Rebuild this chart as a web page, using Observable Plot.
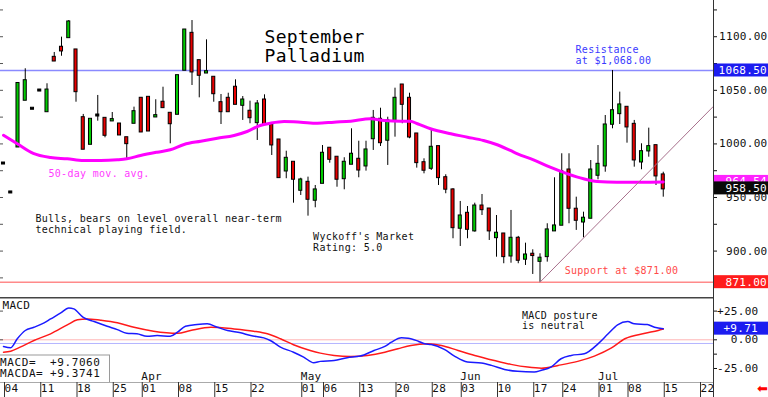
<!DOCTYPE html>
<html><head><meta charset="utf-8">
<script src="https://cdn.jsdelivr.net/npm/d3@7"></script>
<script src="https://cdn.jsdelivr.net/npm/@observablehq/plot@0.6"></script>
<style>
html,body{margin:0;padding:0;background:#fff;}
#chart{position:relative;width:768px;height:397px;overflow:hidden;background:#fff;}
#chart svg{display:block;}
#chart text{letter-spacing:0.3px;}
</style></head><body><div id="chart"></div>
<script>
// ---- Daily OHLC, trading days from Mar 04 2024 (index 0) to Jul 15 2024 (index 91)
const open  = [981.7,954.7,997.6,1041.2,1032.8,1049.8,1030.5,1080.3,1089.7,1099.6,
  1087.2,1024.0,1000.1,1026.5,1023.4,1021.9,1018.1,1005.3,1019.7,1042.1,
  1043.0,1025.6,1038.4,1028.1,1028.1,1069.2,1102.7,1077.2,1066.6,1061.7,
  1038.0,1042.1,1052.4,1036.5,1030.0,1020.3,1040.5,1017.2,1003.2,975.2,
  982.4,957.2,963.7,947.9,963.7,995.5,987.1,968.0,981.5,985.2,
  979.9,1005.3,1022.5,1003.9,1022.5,1054.5,1042.1,1008.8,982.0,977.7,
  997.0,968.0,956.6,921.8,934.8,919.3,941.6,938.8,913.0,915.5,
  895.9,911.5,892.9,896.6,890.9,895.3,919.3,924.6,975.2,938.6,
  927.6,931.1,971.2,979.9,1018.8,1028.7,1033.7,1017.8,983.6,993.9,
  997.9,970.6];
const high  = [981.7,954.7,1055.9,1070.1,1032.8,1049.8,1056.1,1085.3,1099.6,1115.1,
  1087.2,1027.5,1022.5,1045.2,1023.4,1029.3,1018.1,1005.3,1034.3,1042.1,
  1043.0,1041.2,1052.9,1028.1,1063.2,1105.8,1115.1,1077.2,1097.1,1061.7,
  1046.1,1047.3,1059.8,1044.2,1039.9,1040.5,1045.8,1017.2,1003.2,993.2,
  982.4,968.0,969.0,961.2,998.5,995.5,987.1,987.1,1014.1,1002.5,
  1002.5,1031.2,1033.3,1024.9,1052.0,1054.5,1047.3,1008.8,986.1,1014.1,
  997.0,971.2,958.2,946.3,941.6,944.7,952.8,938.8,933.2,915.5,
  937.9,913.7,907.4,901.2,897.5,925.5,968.4,990.8,990.8,950.3,
  936.3,984.5,998.5,1026.5,1068.5,1048.3,1033.7,1021.9,1000.1,1014.7,
  997.9,973.6];
const low   = [981.7,954.7,997.6,1041.2,1032.8,1049.8,1030.5,1077.8,1081.8,1099.6,
  1038.9,995.5,1000.1,1021.2,1005.7,1021.9,1008.8,984.5,1019.7,1010.7,
  1012.5,1025.6,1034.3,1000.1,1028.1,1069.2,1054.5,1043.0,1066.6,1038.9,
  1018.1,1030.5,1037.4,1021.9,1018.8,1003.2,1018.8,989.2,969.0,967.5,
  944.7,951.9,932.6,940.4,963.7,982.0,959.6,957.2,981.5,968.4,
  974.6,993.9,997.6,979.9,1006.3,1018.8,1004.8,977.4,972.1,975.2,
  961.2,953.5,911.5,904.3,911.5,917.7,933.2,909.9,894.3,888.2,
  888.7,888.2,886.6,878.2,871.0,889.7,918.6,924.6,925.5,919.3,
  912.4,931.1,966.5,973.6,1014.1,1018.1,1000.7,978.3,975.9,987.6,
  961.2,950.3];
const close = [981.7,954.7,1055.9,1058.5,1032.8,1049.8,1049.8,1077.8,1087.2,1113.3,
  1049.2,995.5,1022.5,1026.5,1008.5,1022.2,1008.8,1000.7,1029.6,1011.6,
  1012.5,1025.9,1034.3,1019.3,1063.2,1105.8,1067.6,1064.5,1066.9,1047.3,
  1030.5,1030.5,1037.4,1040.5,1024.9,1036.8,1018.8,999.5,969.0,986.1,
  967.5,965.9,948.8,956.6,990.8,986.1,967.5,982.4,989.9,976.1,
  993.9,1023.4,1001.6,1021.2,1042.1,1037.4,1006.9,983.0,975.9,996.4,
  969.0,958.2,922.3,932.3,920.8,941.6,939.1,919.3,916.2,895.3,
  911.5,891.9,895.9,896.3,892.9,919.3,923.0,973.6,940.4,929.2,
  930.2,975.2,980.5,1017.2,1030.5,1035.9,1016.3,985.5,992.3,997.0,
  970.6,958.5];

// ---- 50-day moving average
const maDay   = [0,1.9,4.1,6.5,8.8,11,13.4,15.7,17,18.9,21.2,23,24.9,27.2,29.5,31.8,33.6,35.4,36.8,38.7,41,43.3,45.6,47.9,50.6,52.5,54.8,56.1,57.1,58.9,61.7,64,66.2,68.1,69.9,70.9,73.1,75.4,77.8,80,81.9,84.6,87.9,91];
const maValue = [1008.1,1000.1,991.1,987.3,986.1,984.5,984.5,985.2,986.1,989.2,992.3,994.5,999.5,1002.5,1005.3,1007.9,1011.6,1017.2,1019.3,1020.9,1020.3,1019.3,1020.3,1021.2,1023.4,1021.9,1021.2,1021.2,1018.8,1014.1,1009.4,1006.3,1003.2,999.2,993.9,990.8,985.2,978.3,972.1,967.5,965.0,964.3,964.3,964.54];

// ---- MACD (blue) and MACDA signal (red)
const macdDay   = [0,1,1.9,3,4.2,5.6,6.5,7.9,9,9.7,11,12.5,14.3,15.7,17,18.4,19.8,21.2,23,24,25.1,26.7,28.1,29.5,30.9,32.7,34.1,35.9,36.8,38.2,40,41.4,42.8,43.7,45.6,47.4,49.2,51.1,52.6,53.5,54.9,55.8,57.2,58.1,59,60.8,62.2,64,65.9,67.3,69.1,70.9,73.2,74.2,75.5,76.9,78.3,80.1,82,83.4,84.7,86.1,87,88.8,89.8,91];
const macdValue = [-5.8,-6.9,0.9,8.1,10.9,14.8,18.2,23.4,27.8,26.9,19.6,15.9,11.8,8.9,5.7,5.2,3.1,3.7,3.1,6.6,11.8,13.3,13.9,10.9,8.1,6.1,3.7,1.7,-0.6,-6.4,-10.8,-15.1,-20,-18.8,-18,-15.6,-14.2,-9.3,-5.8,-2.1,1.7,1.4,-1.2,-3.5,-4.1,-8.4,-14.2,-19.4,-20.3,-22.3,-25.8,-27.5,-28.1,-26.6,-23.8,-16.5,-13.6,-12.2,-3.5,5.2,13,15.9,13.9,13.3,10.9,9.71];
const signalDay   = [0,1,2.3,4.2,6.5,8.8,10.2,11.5,13.4,15.7,18,20.7,24,25.8,28.6,31.8,34.5,36.4,38.2,40,42.3,43.7,45.6,47.9,50.2,52.6,54.4,56.2,58.5,60.4,62.7,65,67.7,70,72.3,74.2,76.5,79.2,81.5,83.8,85.7,88.5,90.3,91];
const signalValue = [-10.8,-9.9,-6.4,-0.6,5.2,13.0,17.4,18.2,17.0,14.8,10.9,7.5,5.7,8.1,10.9,9.5,7.5,5.2,0.9,-4.3,-9.3,-11.6,-13.6,-14.5,-13.6,-10.8,-7.8,-4.9,-3.5,-4.9,-9.3,-13.6,-18.0,-21.4,-23.8,-24.7,-22.3,-18.8,-14.2,-7.3,0.9,5.7,8.1,9.37];
const macdNow = 9.7060, macdaNow = 9.3741;
const macdRefLines = [0, -3.2];

// ---- levels, trend line, axis ticks
const resistance = 1068.5, support = 871.0, maNow = 964.54, lastClose = 958.5;
const trendDay = [74, 97.9], trendValue = [871.0, 1034.9];
const priceLabels = [900, 950, 1000, 1050, 1100];
const priceMinorTicks = [875, 900, 925, 950, 975, 1000, 1025, 1050, 1075, 1100, 1125];
const macdLabels = [-25, 0, 25];
const macdMinorTicks = [-25, -12.5, 0, 12.5, 25];
const tickDay   = [0,5,10,15,19,24,29,34,41,44,49,54,59,63,68,73,77,82,86,91,96];
const tickLabel = ["04","11","18","25","01","08","15","22","01","06","13","20","28","03","10","17","24","01","08","15","22"];
const monthDay   = [19,41,63,82];
const monthLabel = ["Apr","May","Jun","Jul"];

// ---- annotations
const priceNotes = [
  {i: 36.0, p: 1076.2, text: "September\nPalladium", size: 18, color: "#000"},
  {i: 78.9, p: 1075.0, text: "Resistance\nat $1,068.00", size: 10, color: "#3a3aff"},
  {i: 77.4, p: 878.2, text: "Support at $871.00", size: 10, color: "#ff4a4a"},
  {i: 6.2, p: 969.2, text: "50-day mov. avg.", size: 10, color: "#ff3cff"},
  {i: 4.4, p: 916.9, text: "Bulls, bears on level overall near-term\ntechnical playing field.", size: 10, color: "#111"},
  {i: 42.7, p: 900.1, text: "Wyckoff's Market\nRating: 5.0", size: 10, color: "#111"}
];
const macdNotes = [{i: 71.5, v: 9.4, text: "MACD posture\nis neutral"}];

// ---- derived tables
const FONT = "DejaVu Sans Mono, monospace";
const GREEN = "#00cc00", RED = "#e80000";
const candles = open.map((o, i) => ({i, o, h: high[i], l: low[i], c: close[i]}));
const ma = maDay.map((i, k) => ({i, p: maValue[k]}));
const macd = macdDay.map((i, k) => ({i, v: macdValue[k]}));
const signal = signalDay.map((i, k) => ({i, v: signalValue[k]}));
const trend = trendDay.map((i, k) => ({i, p: trendValue[k]}));
const months = monthDay.map((i, k) => ({i, label: monthLabel[k]}));
const tickMap = new Map(tickDay.map((d, k) => [d, tickLabel[k]]));
const xDomain = [-0.414, 97.93];
const candleFill = d => d.c > d.o ? GREEN : d.c < d.o ? RED : "#000";

function valueTag(value, label, fill, right) {
  return (index, scales, values, dim) => {
    const y = scales.y(value);
    const x0 = dim.width - dim.marginRight;
    const g = d3.create("svg:g");
    g.append("rect").attr("x", x0 + 1).attr("y", y - 6.5).attr("width", dim.marginRight - 1).attr("height", 13).attr("fill", fill);
    g.append("text").attr("x", x0 + right).attr("y", y).attr("dy", "0.36em").attr("text-anchor", "end")
      .attr("fill", "#fff").attr("font-size", 11).attr("font-family", FONT).text(label);
    return g.node();
  };
}
function axisLine(index, scales, values, dim) {
  const x = dim.width - dim.marginRight + 0.5;
  return d3.create("svg:line").attr("x1", x).attr("x2", x).attr("y1", 0).attr("y2", dim.height)
    .attr("stroke", "#333").attr("stroke-width", 1).node();
}

const main = Plot.plot({
  width: 768, height: 297,
  marginLeft: 0, marginRight: 55, marginTop: 0, marginBottom: 0,
  style: {fontFamily: FONT, background: "#fff", color: "#111"},
  x: {domain: xDomain, axis: null},
  y: {domain: [856.7, 1133.8], axis: null},
  marks: [
    Plot.tickY(priceMinorTicks, {y: d => d, insetRight: 710, stroke: "#555"}),
    Plot.ruleY([resistance], {stroke: "#8a8aff", strokeWidth: 1.5}),
    Plot.ruleY([support], {stroke: "#ff8a8a", strokeWidth: 1.5}),
    Plot.text(priceNotes, {x: "i", y: "p", text: "text", fill: "color", fontSize: d => d.size,
      lineHeight: 1.05, textAnchor: "start", lineAnchor: "bottom"}),
    Plot.ruleX(candles, {x: "i", y1: "l", y2: "h", stroke: "#000", strokeWidth: 1}),
    Plot.rect(candles, {x1: d => d.i - 0.21, x2: d => d.i + 0.21,
      y1: d => Math.min(d.o, d.c), y2: d => Math.max(d.o, d.c),
      fill: candleFill, stroke: "#000", strokeWidth: 1, insetTop: -1, insetBottom: -1}),
    Plot.line(ma, {x: "i", y: "p", stroke: "#ff00ff", strokeWidth: 3, curve: "monotone-x"}),
    Plot.line(trend, {x: "i", y: "p", stroke: "#a8708c", strokeWidth: 1}),
    axisLine,
    Plot.axisY({anchor: "right", label: null, ticks: priceMinorTicks, tickSize: 3, tickFormat: () => ""}),
    Plot.axisY({anchor: "right", label: null, ticks: priceLabels, tickSize: 0, tickPadding: 54, textAnchor: "end",
      fontSize: 11, tickFormat: d => d.toFixed(2)}),
    valueTag(resistance, resistance.toFixed(2), "#1c1cf0", 54),
    valueTag(support, support.toFixed(2), "#ff1c1c", 54),
    valueTag(maNow, maNow.toFixed(2), "#ff22ff", 54),
    valueTag(lastClose, lastClose.toFixed(2), "#0a0a0a", 54)
  ]
});

function panelLines(index, scales, values, dim) {
  const g = d3.create("svg:g");
  const right = dim.width - dim.marginRight;
  const bottom = dim.height - dim.marginBottom;
  g.append("line").attr("x1", 0).attr("x2", right + 1).attr("y1", 0.75).attr("y2", 0.75).attr("stroke", "#444").attr("stroke-width", 1.5);
  g.append("line").attr("x1", 0).attr("x2", right).attr("y1", bottom + 0.5).attr("y2", bottom + 0.5).attr("stroke", "#aaa");
  return g.node();
}
function readoutBox(index, scales, values, dim) {
  const bottom = dim.height - dim.marginBottom;
  const g = d3.create("svg:g").attr("font-family", FONT).attr("font-size", 11).attr("fill", "#111").attr("text-anchor", "start");
  g.append("rect").attr("x", -1).attr("y", bottom - 27).attr("width", 110.5).attr("height", 27.5)
    .attr("fill", "#fff").attr("stroke", "#9a9a9a");
  [["MACD=", macdNow], ["MACDA=", macdaNow]].forEach(([lab, v], k) => {
    g.append("text").attr("x", 0).attr("y", bottom - 16 + 11 * k).attr("text-anchor", "start").style("letter-spacing", "0.6px").text(lab);
    g.append("text").attr("x", 50).attr("y", bottom - 16 + 11 * k).attr("text-anchor", "start").style("letter-spacing", "0.6px").text((v >= 0 ? "+" : "") + v.toFixed(4));
  });
  return g.node();
}

const lower = Plot.plot({
  width: 768, height: 100,
  marginLeft: 0, marginRight: 55, marginTop: 0, marginBottom: 15,
  style: {fontFamily: FONT, background: "#fff", color: "#111"},
  x: {domain: xDomain, axis: null},
  y: {domain: [-37.2, 36.85], axis: null},
  marks: [
    Plot.ruleY([macdRefLines[0]], {stroke: "#ffb4b4", strokeWidth: 1}),
    Plot.ruleY([macdRefLines[1]], {stroke: "#b4b4ff", strokeWidth: 1}),
    Plot.tickY(macdLabels, {y: d => d, insetRight: 710, stroke: "#555"}),
    Plot.line(signal, {x: "i", y: "v", stroke: "#ff1a1a", strokeWidth: 1.5, curve: "monotone-x"}),
    Plot.line(macd, {x: "i", y: "v", stroke: "#1a1aff", strokeWidth: 1.5, curve: "monotone-x"}),
    Plot.text(macdNotes, {x: "i", y: "v", text: "text", fontSize: 10, fill: "#111", lineHeight: 1.0,
      textAnchor: "start", lineAnchor: "bottom"}),
    Plot.text(["MACD"], {text: d => d, frameAnchor: "top-left", dx: 2, dy: 11, fontSize: 11,
      textAnchor: "start", lineAnchor: "bottom", fill: "#111"}),
    Plot.text(months, {x: "i", text: "label", frameAnchor: "bottom", dy: -3, fontSize: 11,
      textAnchor: "start", lineAnchor: "bottom", fill: "#111"}),
    readoutBox,
    panelLines,
    Plot.axisX({anchor: "bottom", label: null, ticks: tickDay, tickFormat: d => tickMap.get(d), tickSize: 15,
      tickPadding: -13, textAnchor: "start", dx: 1, fontSize: 11, stroke: "#333"}),
    axisLine,
    Plot.axisY({anchor: "right", label: null, ticks: macdMinorTicks, tickSize: 3, tickFormat: () => ""}),
    Plot.axisY({anchor: "right", label: null, ticks: macdLabels, tickSize: 0, tickPadding: 45, textAnchor: "end",
      fontSize: 11, tickFormat: d => (d > 0 ? "+" : "") + d.toFixed(2)}),
    valueTag(macdNow, "+" + macdNow.toFixed(2), "#1c1cf0", 45),
    Plot.text(["\u2B05"], {text: d => d, frameAnchor: "bottom-right", dx: 49, dy: 6, fontSize: 13,
      fontFamily: "DejaVu Sans", fill: "#ff0000", textAnchor: "middle", lineAnchor: "middle"})
  ]
});

const root = document.getElementById("chart");
root.appendChild(main);
root.appendChild(lower);
</script></body></html>
